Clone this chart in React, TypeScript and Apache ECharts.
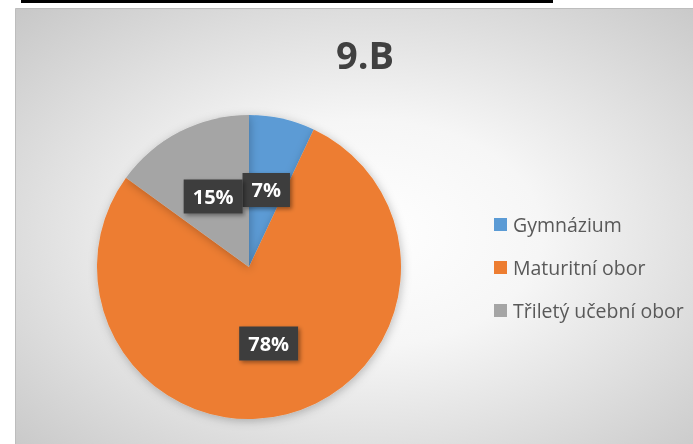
import React, { useEffect, useRef } from "react";
import * as echarts from "echarts";

const title = "9.B";
const categories = ["Gymnázium", "Maturitní obor", "Třiletý učební obor"];
const values = [7, 78, 15];
const colors = ["#5B9BD5", "#ED7D31", "#A5A5A5"];

export default function App() {
  const ref = useRef<HTMLDivElement>(null);
  useEffect(() => {
    if (!ref.current) return;
    const chart = echarts.init(ref.current, null, { renderer: "svg" });
    const font = "'Open Sans', 'Noto Sans', sans-serif";
    chart.setOption({
      animation: false,
      textStyle: { fontFamily: font },
      graphic: [
        {
          type: "rect",
          z: -10,
          shape: { x: 21, y: 0, width: 532, height: 3 },
          style: { fill: "#000000" },
        },
        {
          type: "rect",
          z: -10,
          shape: { x: 15.5, y: 8.5, width: 700, height: 450 },
          style: {
            fill: new echarts.graphic.RadialGradient(0.5, 0.5, 0.72, [
              { offset: 0, color: "#ffffff" },
              { offset: 0.35, color: "#f6f6f6" },
              { offset: 1, color: "#c6c6c6" },
            ]),
            stroke: "#bdbdbd",
            lineWidth: 1,
          },
        },
      ],
      title: {
        text: title,
        left: 360,
        textAlign: "center",
        top: 30,
        textStyle: {
          fontFamily: font,
          fontSize: 38,
          fontWeight: "bold",
          color: "#404040",
        },
      },
      legend: {
        orient: "vertical",
        left: 494,
        top: 214,
        padding: 0,
        icon: "rect",
        itemWidth: 13,
        itemHeight: 13,
        itemGap: 22,
        data: categories,
        textStyle: {
          fontFamily: font,
          fontSize: 19.5,
          lineHeight: 21,
          color: "#595959",
          padding: [0, 0, 0, 1],
        },
      },
      series: [
        {
          type: "pie",
          center: [249, 267],
          radius: 152,
          startAngle: 90,
          clockwise: true,
          avoidLabelOverlap: false,
          itemStyle: {
            shadowBlur: 10,
            shadowColor: "rgba(0,0,0,0.25)",
            shadowOffsetX: 1,
            shadowOffsetY: 2,
          },
          label: {
            show: true,
            position: "inside",
            formatter: "{c}%",
            fontFamily: font,
            fontSize: 20,
            fontWeight: "bold",
            color: "#ffffff",
            backgroundColor: "#3c3c3c",
            padding: [8, 9, 6, 9],
            shadowBlur: 4,
            shadowColor: "rgba(0,0,0,0.4)",
            shadowOffsetX: 2,
            shadowOffsetY: 2,
          },
          labelLine: { show: false },
          data: categories.map((name, i) => ({
            name,
            value: values[i],
            itemStyle: { color: colors[i] },
          })),
        },
      ],
    });
    return () => chart.dispose();
  }, []);
  return (
    <div
      ref={ref}
      style={{ position: "fixed", left: 0, top: 0, width: 693, height: 444 }}
    />
  );
}
